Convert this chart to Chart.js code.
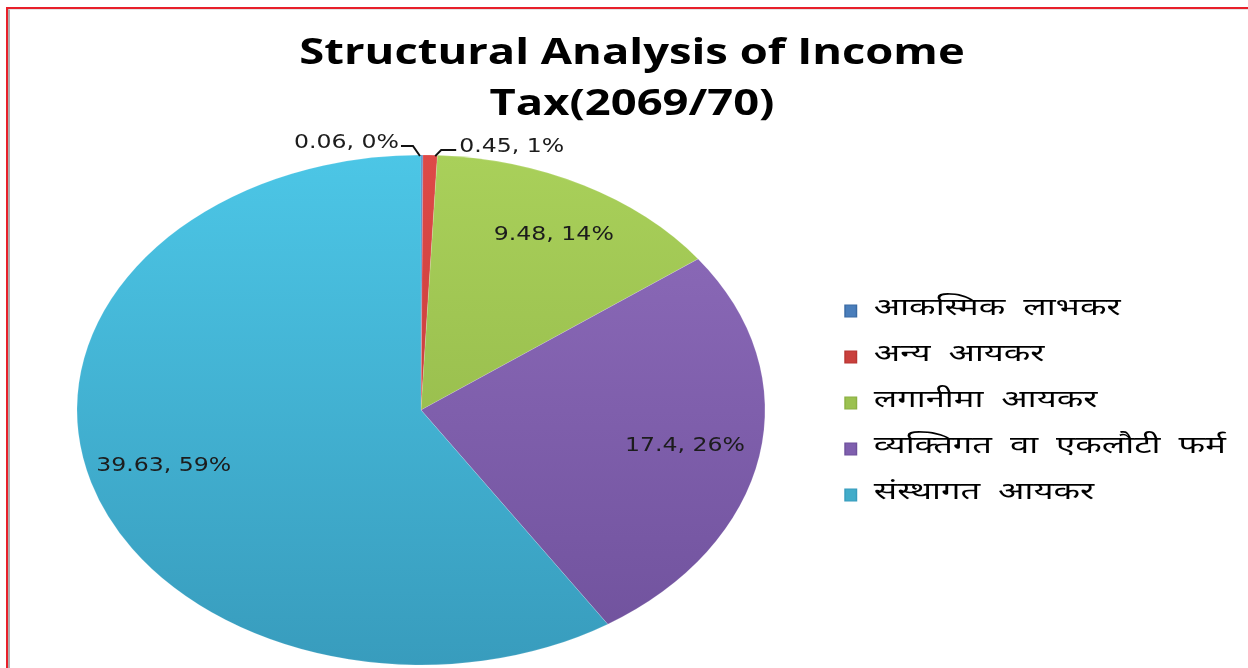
<!DOCTYPE html>
<html>
<head>
<meta charset="utf-8">
<script src="https://cdn.jsdelivr.net/npm/chart.js@4"></script>
<style>
html,body{margin:0;padding:0;background:#fff;}
#wrap{position:relative;width:1248px;height:668px;overflow:hidden;}
#c{display:block;}
#frameRed{position:absolute;left:6px;top:7px;width:1300px;height:700px;border-left:2px solid #e8202a;border-top:2px solid #e8202a;pointer-events:none;}
#frameGray{position:absolute;left:8px;top:9px;width:1300px;height:700px;border-left:2px solid #b0b0b0;border-top:1px solid #e4e4e4;pointer-events:none;}
</style>
</head>
<body>
<div id="wrap">
<canvas id="c" width="1248" height="668"></canvas>
<div id="frameGray"></div>
<div id="frameRed"></div>
</div>
<script>
// ---- data ----
const titleLines = ['Structural Analysis of Income', 'Tax(2069/70)'];
const categories = ['आकस्मिक  लाभकर', 'अन्य  आयकर', 'लगानीमा  आयकर', 'व्यक्तिगत  वा  एकलौटी  फर्म', 'संस्थागत  आयकर'];
const values = [0.06, 0.45, 9.48, 17.4, 39.63];
const colorsTop = ['#5089c8', '#de4a48', '#a9d05a', '#8f6dbc', '#4cc6e6'];
const colorsBottom = ['#3a6aa3', '#b83532', '#8cb044', '#6f519c', '#389cbd'];
const legendColors = ['#4a7ebb', '#c9403d', '#9bc150', '#7f5fae', '#42acc9'];

// ---- target ellipse geometry (pie is drawn stretched) ----
const CX = 421, CY = 410, RX = 344, RY = 255;
const TITLE_STRETCH = 1.26, LEGEND_STRETCH = 1.44, LABEL_STRETCH = 1.18;
const LEGEND_PAD = 22;

const total = values.reduce((a, b) => a + b, 0);

function sliceGradient(context, i) {
  const chart = context.chart;
  const area = chart.chartArea;
  if (!area) return colorsTop[i];
  const cy = (area.top + area.bottom) / 2;
  const r = Math.min(area.right - area.left, area.bottom - area.top) / 2;
  const g = chart.ctx.createLinearGradient(0, cy - r, 0, cy + r);
  g.addColorStop(0, colorsTop[i]);
  g.addColorStop(1, colorsBottom[i]);
  return g;
}

function stretchText(ctx, txt, x, y, align) {
  ctx.save();
  ctx.translate(x, y);
  ctx.scale(LABEL_STRETCH, 1);
  ctx.textAlign = align;
  ctx.fillText(txt, 0, 0);
  ctx.restore();
}

const ellipsePlugin = {
  id: 'ellipsePie',
  beforeDatasetsDraw(chart) {
    const arc = chart.getDatasetMeta(0).data[0];
    const ctx = chart.ctx;
    ctx.save();
    ctx.translate(CX, CY);
    ctx.scale(RX / arc.outerRadius, RY / arc.outerRadius);
    ctx.translate(-arc.x, -arc.y);
  },
  afterDatasetsDraw(chart) {
    const ctx = chart.ctx;
    ctx.restore();
    const meta = chart.getDatasetMeta(0);
    ctx.save();
    ctx.font = '20px "DejaVu Sans", Verdana, sans-serif';
    ctx.fillStyle = '#1c1c1c';
    ctx.strokeStyle = '#111';
    ctx.lineWidth = 2;
    ctx.textBaseline = 'middle';
    meta.data.forEach((arc, i) => {
      const a = (arc.startAngle + arc.endAngle) / 2;
      const pct = Math.round(values[i] / total * 100);
      const txt = values[i] + ', ' + pct + '%';
      const ex = CX + RX * Math.cos(a), ey = CY + RY * Math.sin(a);
      if (i === 0) {
        ctx.beginPath();
        ctx.moveTo(ex - 2, ey + 1);
        ctx.lineTo(ex - 9, ey - 9);
        ctx.lineTo(ex - 21, ey - 9);
        ctx.stroke();
        stretchText(ctx, txt, ex - 23, ey - 12, 'right');
      } else if (i === 1) {
        ctx.beginPath();
        ctx.moveTo(ex + 5, ey + 1);
        ctx.lineTo(ex + 11, ey - 5);
        ctx.lineTo(ex + 26, ey - 5);
        ctx.stroke();
        stretchText(ctx, txt, ex + 29, ey - 8, 'left');
      } else {
        const f = 0.78;
        const shift = i === 2 ? 6 : 0;
        stretchText(ctx, txt, CX + RX * f * Math.cos(a) + shift, CY + RY * f * Math.sin(a), 'center');
      }
    });
    ctx.restore();
  }
};

function stretchBox(box, ctx, sx, originX) {
  if (!box || box._stretched) return;
  const orig = box.draw.bind(box);
  box.draw = function (area) {
    const ox = originX(box);
    ctx.save();
    ctx.translate(ox, 0);
    ctx.scale(sx, 1);
    ctx.translate(-ox, 0);
    orig(area);
    ctx.restore();
  };
  box._stretched = true;
}

const boxPlace = {
  id: 'boxPlace',
  afterLayout(chart) {
    const lg = chart.legend;
    const w = lg.width, h = lg.height;
    lg.left = 845 - LEGEND_PAD;
    lg.right = lg.left + w;
    lg.top = 277;
    lg.bottom = lg.top + h;
    stretchBox(lg, chart.ctx, LEGEND_STRETCH, (b) => b.left + LEGEND_PAD);
    stretchBox(chart.titleBlock, chart.ctx, TITLE_STRETCH, (b) => (b.left + b.right) / 2);
  }
};

new Chart(document.getElementById('c'), {
  type: 'pie',
  data: {
    labels: categories,
    datasets: [{
      data: values,
      backgroundColor: (ctx) => sliceGradient(ctx, ctx.dataIndex),
      borderColor: 'rgba(255,255,255,0.25)',
      borderWidth: 0.5
    }]
  },
  options: {
    responsive: false,
    animation: false,
    events: [],
    layout: { padding: { left: 16, right: 0, top: 0, bottom: 0 } },
    plugins: {
      title: {
        display: true,
        text: titleLines,
        color: '#000',
        font: { family: '"Open Sans", Lato, sans-serif', size: 36, weight: 'bold', lineHeight: 1.4 },
        padding: { top: 29, bottom: 10 }
      },
      legend: {
        position: 'right',
        align: 'start',
        labels: {
          color: '#111',
          boxWidth: 8,
          boxHeight: 12,
          padding: LEGEND_PAD,
          font: { family: '"Noto Sans Devanagari", "Lohit Devanagari", Mangal, "FreeSerif", sans-serif', size: 24, lineHeight: 1.2 },
          generateLabels(chart) {
            return categories.map((c, i) => ({
              text: c,
              fillStyle: legendColors[i],
              strokeStyle: colorsBottom[i],
              lineWidth: 1,
              hidden: false,
              index: i
            }));
          }
        }
      },
      tooltip: { enabled: false }
    }
  },
  plugins: [ellipsePlugin, boxPlace]
});
</script>
</body>
</html>
